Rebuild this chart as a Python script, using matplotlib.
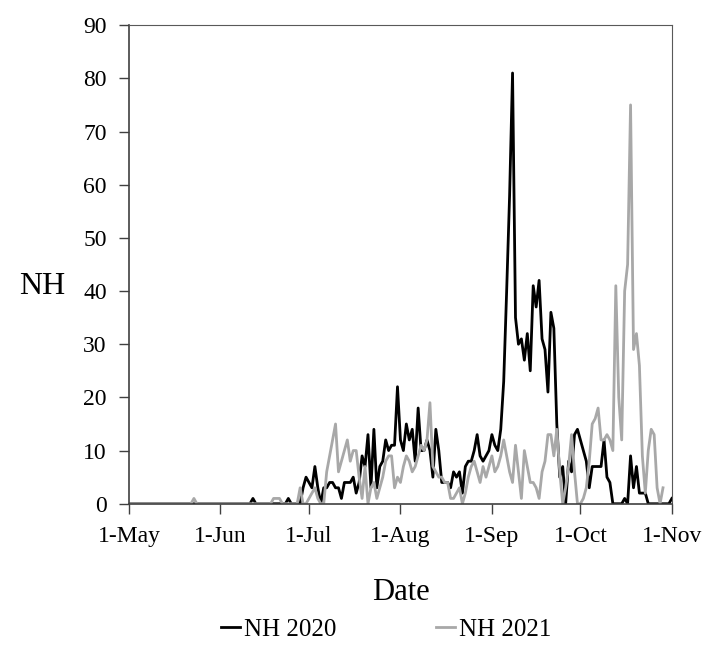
import numpy as np
import pandas as pd
import matplotlib
matplotlib.use("Agg")
import matplotlib.pyplot as plt
import matplotlib.dates as mdates

plt.rcParams['font.family'] = ['Liberation Serif', 'DejaVu Serif']

# daily values from 1 May
nh2020 = [0, 0, 0, 0, 0, 0, 0, 0, 0, 0, 0, 0, 0, 0, 0, 0, 0, 0, 0, 0,
          0, 0, 0, 0, 0, 0, 0, 0, 0, 0, 0, 0, 0, 0, 0, 0, 0, 0, 0, 0,
          0, 0, 1, 0, 0, 0, 0, 0, 0, 0, 0, 0, 0, 0, 1, 0, 0, 0, 0, 3,
          5, 4, 3, 7, 3, 0, 3, 3, 4, 4, 3, 3, 1, 4, 4, 4, 5, 2, 4, 9,
          7, 13, 3, 14, 3, 7, 8, 12, 10, 11, 11, 22, 12, 10, 15, 12, 14, 8, 18, 10,
          10, 12, 10, 5, 14, 10, 4, 4, 4, 3, 6, 5, 6, 2, 7, 8, 8, 10, 13, 9,
          8, 9, 10, 13, 11, 10, 14, 23, 40, 58, 81, 35, 30, 31, 27, 32, 25, 41, 37, 42,
          31, 29, 21, 36, 33, 15, 5, 7, 0, 8, 6, 13, 14, 12, 10, 8, 3, 7, 7, 7,
          7, 12, 5, 4, 0, 0, 0, 0, 1, 0, 9, 3, 7, 2, 2, 2, 0, 0, 0, 0,
          0, 0, 0, 0, 1]

nh2021 = [0, 0, 0, 0, 0, 0, 0, 0, 0, 0, 0, 0, 0, 0, 0, 0, 0, 0, 0, 0,
          0, 0, 1, 0, 0, 0, 0, 0, 0, 0, 0, 0, 0, 0, 0, 0, 0, 0, 0, 0,
          0, 0, 0, 0, 0, 0, 0, 0, 0, 1, 1, 1, 0, 0, 0, 0, 0, 0, 3, 0,
          0, 1, 2, 3, 1, 0, 0, 6, 9, 12, 15, 6, 8, 10, 12, 8, 10, 10, 5, 1,
          7, 0, 3, 4, 1, 3, 5, 8, 9, 9, 3, 5, 4, 7, 9, 8, 6, 7, 9, 11,
          10, 12, 19, 7, 6, 5, 5, 4, 4, 1, 1, 2, 3, 0, 2, 5, 7, 8, 6, 4,
          7, 5, 7, 9, 6, 7, 9, 12, 9, 6, 4, 11, 6, 1, 10, 7, 4, 4, 3, 1,
          6, 8, 13, 13, 9, 14, 6, 0, 3, 7, 13, 6, 0, 0, 1, 3, 8, 15, 16, 18,
          12, 12, 13, 12, 10, 41, 20, 12, 40, 45, 75, 29, 32, 26, 9, 2, 10, 14, 13, 3,
          0, 3]

dates_2020 = pd.date_range('2020-05-01', periods=len(nh2020), freq='D')
dates_2021 = pd.date_range('2020-05-01', periods=len(nh2021), freq='D')

fig = plt.figure(figsize=(7.05, 6.45), dpi=100)
ax = fig.add_axes([0.183, 0.219, 0.770, 0.742])

ax.plot(dates_2020, nh2020, color='black', lw=2, label='NH 2020')
ax.plot(dates_2021, nh2021, color='#A8A8A8', lw=2, label='NH 2021')

ax.set_xlim(pd.Timestamp('2020-05-01'), pd.Timestamp('2020-11-01'))
ax.set_ylim(0, 90)
ax.set_yticks(range(0, 91, 10))
ax.xaxis.set_major_locator(mdates.MonthLocator())
ax.xaxis.set_major_formatter(mdates.DateFormatter('1-%b'))

ax.tick_params(axis='both', labelsize=17, direction='out', length=7,
               width=1, color='#404040')
ax.tick_params(axis='y', pad=9)
ax.tick_params(axis='x', pad=9)
for side in ['left', 'bottom']:
    ax.spines[side].set_color('#404040')
    ax.spines[side].set_linewidth(1.2)
for side in ['top', 'right']:
    ax.spines[side].set_color('#595959')
    ax.spines[side].set_linewidth(0.8)

ax.set_xlabel('Date', fontsize=22, labelpad=22)
ax.set_ylabel('NH', fontsize=23, rotation=0, va='center', ha='center')
ax.yaxis.set_label_coords(-0.16, 0.453)

fig.legend(loc='lower center', bbox_to_anchor=(0.548, -0.028), ncol=2,
           frameon=False, fontsize=18, handlelength=0.75, handletextpad=0.15,
           columnspacing=4.0)

fig.savefig('out.png', dpi=100)
